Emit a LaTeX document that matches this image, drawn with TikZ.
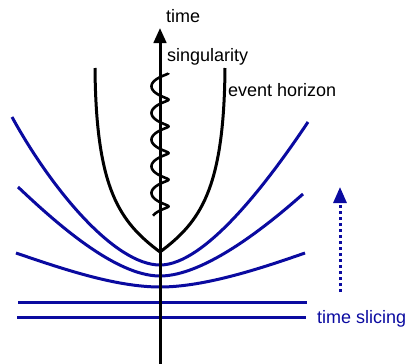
\documentclass[tikz,border=0pt]{standalone}
\usepackage{fontspec}
\setmainfont{Liberation Sans}
\usetikzlibrary{arrows.meta}
\definecolor{sliceblue}{RGB}{10,10,160}
\tikzset{
  lbl/.style={anchor=base west, inner sep=0pt, font=\fontsize{18}{20}\selectfont},
  blk/.style={draw=black, line width=3pt},
  slice/.style={draw=sliceblue, line width=3pt},
}
\begin{document}
\begin{tikzpicture}[x=1pt,y=-1pt]
\useasboundingbox (0,0) rectangle (410,364);
% time axis
\coordinate (axb) at (160,364);
\coordinate (axt) at (160,28);
\coordinate (vtx) at (160,252);
% time slices
\draw[slice] (16,253) .. controls (60,268) and (115,287) .. (160,287) .. controls (205,287) and (262,268) .. (305,253);
\draw[slice] (18,187) .. controls (55,222) and (115,276) .. (160,276) .. controls (205,276) and (268,225) .. (303,194);
\draw[slice] (12,117) .. controls (52,190) and (115,265) .. (160,265) .. controls (205,265) and (268,182) .. (308,122);
\draw[slice] (18,302) coordinate (h1a) -- (307,302) coordinate (h1b);
\draw[slice] (17,317) coordinate (h2a) -- (306,317) coordinate (h2b);
% event horizon
\draw[blk] (95,68) coordinate (ehl) .. controls (96,190) and (120,222) .. (vtx)
           .. controls (200,222) and (224,190) .. (225,68) coordinate (ehr);
% singularity wiggle
\draw[draw=black, line width=2.6pt] plot[domain=0:1945, samples=260, smooth]
  ({160+8.5*cos(\x)}, {73 + 0.0741*\x - 2.5*sin(\x)});
% axis
\draw[blk, -{Triangle[length=15pt,width=12.5pt]}] (axb) -- (axt);
% time slicing arrow
\coordinate (sa) at (340,292);
\coordinate (sb) at (340,187);
\draw[draw=sliceblue, line width=3pt, dash pattern=on 3pt off 3pt, -{Triangle[length=16pt,width=13pt]}] (sa) -- (sb);
% labels
\node[lbl] (ltime) at (166,23) {time};
\node[lbl] (lsing) at (167,61) {singularity};
\node[lbl] (lev) at (228,96) {event horizon};
\node[lbl, text=sliceblue] (lslice) at (317,323) {time slicing};
\end{tikzpicture}
\end{document}
